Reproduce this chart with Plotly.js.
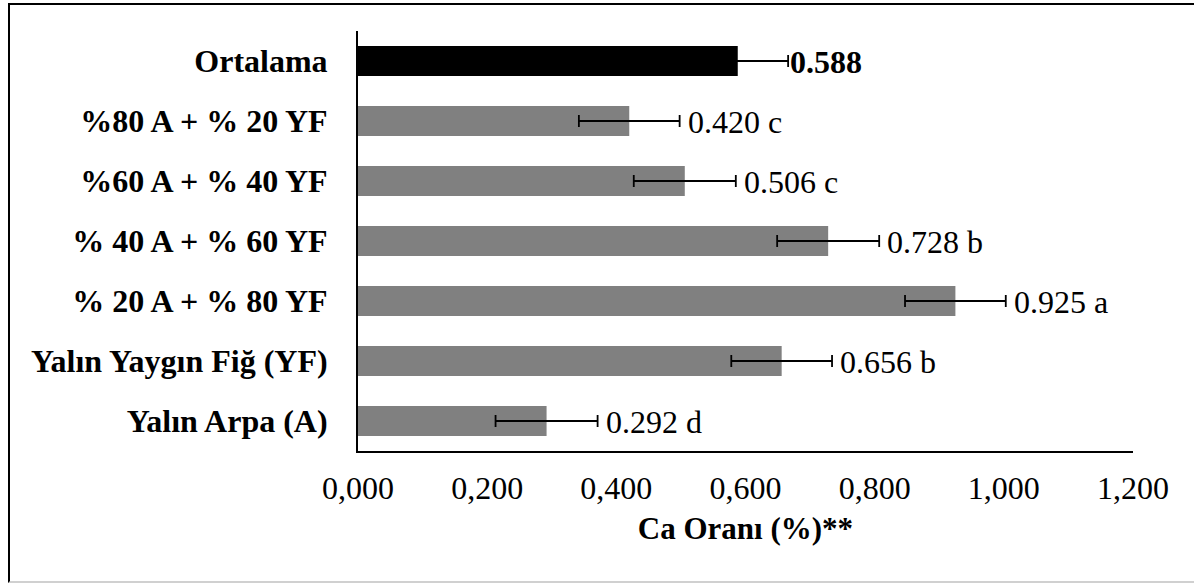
<!DOCTYPE html>
<html>
<head>
<meta charset="utf-8">
<script src="https://cdn.plot.ly/plotly-3.0.1.min.js"></script>
<style>
  html, body { margin: 0; padding: 0; background: #fff; }
  #wrap { position: relative; width: 1194px; height: 583px; overflow: hidden; }
  #chart { position: absolute; left: 0; top: 0; width: 1194px; height: 583px; }
  #frame { position: absolute; left: 8px; top: 3px; width: 1200px; height: 576px;
           border-left: 2px solid #000; border-top: 2px solid #000; border-bottom: 2px solid #d0d0d0;
           pointer-events: none; }
</style>
</head>
<body>
<div id="wrap">
  <div id="chart"></div>
  <div id="frame"></div>
</div>
<script>
// Data (bottom to top)
const categories = ['Yalın Arpa (A)', 'Yalın Yaygın Fiğ (YF)', '% 20 A + % 80 YF', '% 40 A + % 60 YF', '%60 A + % 40 YF', '%80 A + % 20 YF', 'Ortalama'];
const values = [0.292, 0.656, 0.925, 0.728, 0.506, 0.420, 0.588];
const errors = [0.079, 0.078, 0.078, 0.079, 0.079, 0.078, 0.078];
const letters = ['d', 'b', 'a', 'b', 'c', 'c', ''];
const tickVals = [0, 0.2, 0.4, 0.6, 0.8, 1.0, 1.2];

const FONT = '"Liberation Serif", "Times New Roman", serif';
const barColors = categories.map(c => c === 'Ortalama' ? '#000000' : '#808080');

const trace = {
  type: 'bar',
  orientation: 'h',
  y: categories,
  x: values,
  width: 0.5,
  marker: { color: barColors, line: { width: 0 } },
  error_x: { type: 'data', array: errors, visible: true, color: '#000', thickness: 1.8, width: 6 },
  hoverinfo: 'none'
};

const annotations = categories.map((c, i) => {
  const isMean = c === 'Ortalama';
  const txt = values[i].toFixed(3) + (letters[i] ? ' ' + letters[i] : '');
  return {
    x: values[i] + errors[i], y: c, xref: 'x', yref: 'y',
    text: txt, showarrow: false, xanchor: 'left', yanchor: 'middle', xshift: isMean ? 0 : 6, yshift: -1,
    font: { family: FONT, size: 32, color: '#000', weight: isMean ? 'bold' : 'normal' }
  };
});

const layout = {
  width: 1194, height: 583,
  margin: { l: 358, r: 61, t: 31, b: 132 },
  paper_bgcolor: '#fff', plot_bgcolor: '#fff',
  separators: ',.',
  showlegend: false,
  xaxis: {
    range: [0, 1.2], tickvals: tickVals, tickformat: '.3f',
    showgrid: false, zeroline: false, showline: true, linecolor: '#000', linewidth: 2,
    ticks: '', ticklabelstandoff: 8,
    tickfont: { family: FONT, size: 32, color: '#000' },
    title: { text: 'Ca Oranı (%)**', font: { family: FONT, size: 31, color: '#000', weight: 'bold' }, standoff: 12 },
    fixedrange: true
  },
  yaxis: {
    type: 'category', categoryorder: 'array', categoryarray: categories,
    range: [-0.5, categories.length - 0.5],
    showgrid: false, zeroline: false, showline: true, linecolor: '#000', linewidth: 2,
    ticks: '', ticklabelstandoff: 22,
    tickfont: { family: FONT, size: 32, color: '#000', weight: 'bold' },
    fixedrange: true
  },
  annotations: annotations
};

Plotly.newPlot('chart', [trace], layout, { displayModeBar: false, staticPlot: true });
</script>
</body>
</html>
